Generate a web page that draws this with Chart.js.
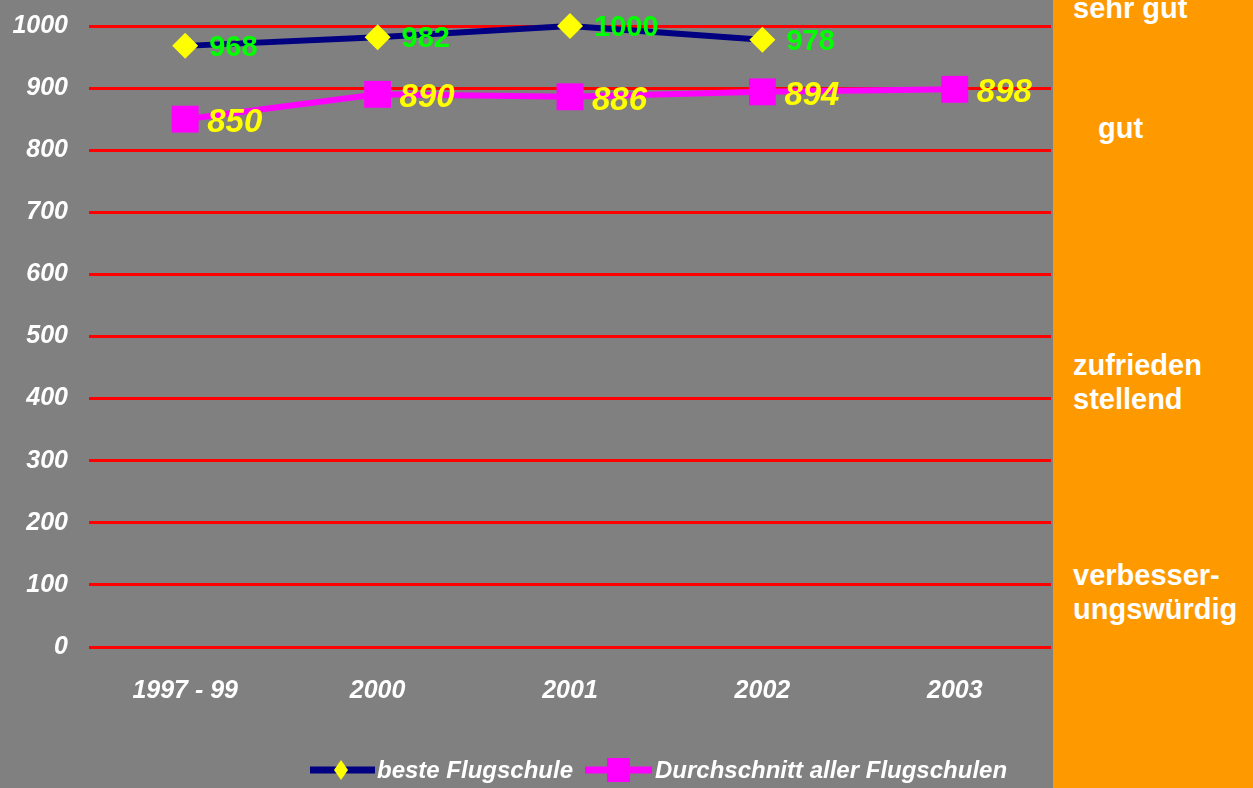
<!DOCTYPE html>
<html>
<head>
<meta charset="utf-8">
<script src="https://cdn.jsdelivr.net/npm/chart.js@4"></script>
<style>
  html, body { margin: 0; padding: 0; background: #808080; overflow: hidden; }
  #wrap { position: relative; width: 1253px; height: 788px; overflow: hidden; }
  #chart-box { position: absolute; left: 0; top: 0; width: 1068px; height: 788px; }
  #panel { position: absolute; left: 1053px; top: 0; width: 200px; height: 788px; background: #ff9900; z-index: 2;
    font-family: "Liberation Sans", Arial, sans-serif; font-weight: bold; color: #fff; font-size: 29px; line-height: 34px; }
  #panel div { position: absolute; white-space: nowrap; }
</style>
</head>
<body>
<div id="wrap">
  <div id="chart-box"><canvas id="c" width="1068" height="788"></canvas></div>
  <div id="panel">
    <div style="left: 20px; top: -9px;">sehr gut</div>
    <div style="left: 45px; top: 111px;">gut</div>
    <div style="left: 20px; top: 348px;">zufrieden<br>stellend</div>
    <div style="left: 20px; top: 558px;">verbesser-<br>ungswürdig</div>
  </div>
</div>
<script>
const categories = ['1997 - 99', '2000', '2001', '2002', '2003'];
const besteFlugschule = [968, 982, 1000, 978, null];
const durchschnitt = [850, 890, 886, 894, 898];
const seriesNames = ['beste Flugschule', 'Durchschnitt aller Flugschulen'];

const FONT = '"Liberation Sans", Arial, sans-serif';

// value labels next to each point
const valueLabels = {
  id: 'valueLabels',
  afterDatasetsDraw(chart) {
    const ctx = chart.ctx;
    const styles = [
      { color: '#00ff00', font: 'bold 29px ' + FONT, dx: 24, dy: 2 },
      { color: '#ffff00', font: 'italic bold 33px ' + FONT, dx: 22, dy: 4 }
    ];
    chart.data.datasets.forEach((ds, i) => {
      const meta = chart.getDatasetMeta(i);
      const s = styles[i];
      ctx.save();
      ctx.font = s.font;
      ctx.fillStyle = s.color;
      ctx.textAlign = 'left';
      ctx.textBaseline = 'middle';
      meta.data.forEach((pt, j) => {
        const v = ds.data[j];
        if (v === null) return;
        ctx.fillText(String(v), pt.x + s.dx, pt.y + s.dy);
      });
      ctx.restore();
    });
  }
};

// legend at the bottom: line with marker, then text
const bottomLegend = {
  id: 'bottomLegend',
  afterDraw(chart) {
    const ctx = chart.ctx;
    const y = 770;
    ctx.save();
    ctx.font = 'italic bold 24px ' + FONT;
    ctx.textBaseline = 'middle';
    // series 1
    ctx.strokeStyle = '#000080';
    ctx.lineWidth = 7;
    ctx.beginPath(); ctx.moveTo(310, y); ctx.lineTo(375, y); ctx.stroke();
    ctx.fillStyle = '#ffff00';
    ctx.beginPath(); ctx.moveTo(341, y - 10); ctx.lineTo(348, y); ctx.lineTo(341, y + 10); ctx.lineTo(334, y); ctx.closePath(); ctx.fill();
    ctx.fillStyle = '#fff';
    ctx.fillText(seriesNames[0], 377, y + 1);
    // series 2
    ctx.strokeStyle = '#ff00ff';
    ctx.beginPath(); ctx.moveTo(585, y); ctx.lineTo(652, y); ctx.stroke();
    ctx.fillStyle = '#ff00ff';
    ctx.fillRect(607, y - 12, 23, 24);
    ctx.fillStyle = '#fff';
    ctx.fillText(seriesNames[1], 655, y + 1);
    ctx.restore();
  }
};

new Chart(document.getElementById('c'), {
  type: 'line',
  data: {
    labels: categories,
    datasets: [
      {
        label: seriesNames[0],
        data: besteFlugschule,
        borderColor: '#000080',
        borderWidth: 6,
        pointStyle: 'rectRot',
        pointRadius: 13,
        pointBackgroundColor: '#ffff00',
        pointBorderColor: '#ffff00',
        pointBorderWidth: 0,
        tension: 0,
        spanGaps: false,
        clip: false
      },
      {
        label: seriesNames[1],
        data: durchschnitt,
        borderColor: '#ff00ff',
        borderWidth: 6,
        pointStyle: 'rect',
        pointRadius: 19,
        pointBackgroundColor: '#ff00ff',
        pointBorderColor: '#ff00ff',
        pointBorderWidth: 0,
        tension: 0,
        clip: false
      }
    ]
  },
  options: {
    responsive: false,
    animation: false,
    devicePixelRatio: 1,
    layout: { autoPadding: false, padding: { top: 26, right: 17, bottom: 0, left: 0 } },
    plugins: { legend: { display: false }, tooltip: { enabled: false } },
    scales: {
      x: {
        offset: true,
        grid: { display: false, drawTicks: false },
        border: { display: false },
        ticks: { color: '#fff', font: { family: FONT, size: 25, style: 'italic', weight: 'bold' }, padding: 29, maxRotation: 0 },
        afterFit(scale) { scale.height = 141; scale.paddingLeft = 0; scale.paddingRight = 0; }
      },
      y: {
        min: 0,
        max: 1000,
        ticks: {
          stepSize: 100,
          color: '#fff',
          font: { family: FONT, size: 25, style: 'italic', weight: 'bold' },
          padding: 21,
          callback: v => String(v)
        },
        grid: { color: '#ff0000', lineWidth: 3, drawTicks: false },
        border: { display: false },
        afterFit(scale) { scale.width = 89; scale.paddingTop = 0; scale.paddingBottom = 0; }
      }
    }
  },
  plugins: [valueLabels, bottomLegend]
});
</script>
</body>
</html>
